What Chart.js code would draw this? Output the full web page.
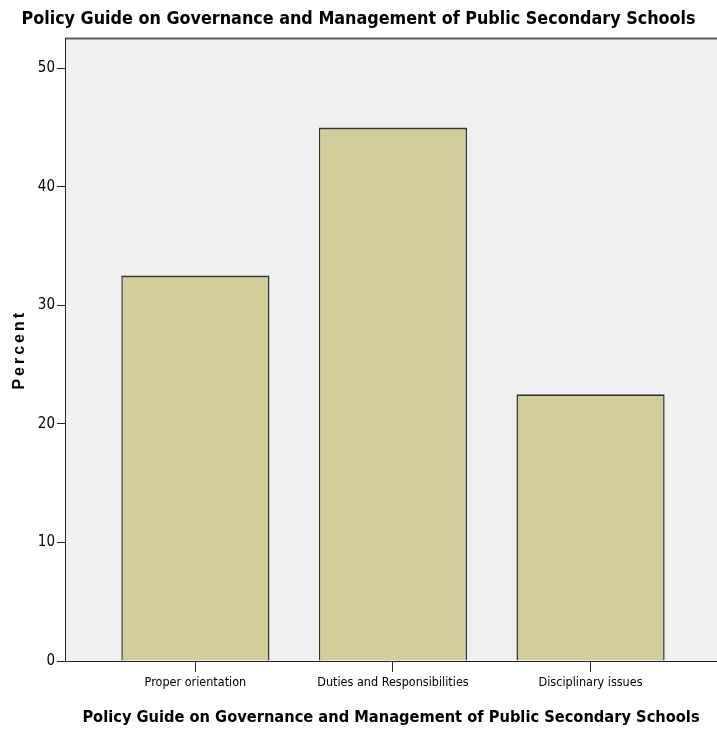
<!DOCTYPE html>
<html>
<head>
<meta charset="utf-8">
<script src="https://cdn.jsdelivr.net/npm/chart.js@4.4.1/dist/chart.umd.min.js"></script>
<style>
  html, body { margin: 0; padding: 0; background: #fff; overflow: hidden; }
  #wrap { width: 717px; height: 731px; }
</style>
</head>
<body>
<div id="wrap"><canvas id="chart"></canvas></div>
<script>
const categories = ["Proper orientation", "Duties and Responsibilities", "Disciplinary issues"];
const percents = [32.5, 45.0, 22.5];
const yTickValues = [0, 10, 20, 30, 40, 50];
const chartTitle = "Policy Guide on Governance and Management of Public Secondary Schools";

const NARROW = "'Liberation Sans Narrow', 'DejaVu Sans Condensed', 'Liberation Sans', Arial, sans-serif";

// grey plot panel with the darker frame line on top
const plotPanel = {
  id: "plotPanel",
  beforeDraw(chart) {
    const { ctx, chartArea: a } = chart;
    ctx.save();
    ctx.fillStyle = "#f0f0f0";
    ctx.fillRect(a.left, a.top, a.right - a.left, a.bottom - a.top);
    ctx.strokeStyle = "#5c5c5c";
    ctx.lineWidth = 2;
    ctx.beginPath();
    ctx.moveTo(a.left, a.top);
    ctx.lineTo(a.right, a.top);
    ctx.stroke();
    ctx.restore();
  },
};

// SPSS spreads the letters of the vertical axis title
const spacedTitle = {
  id: "spacedTitle",
  afterLayout(chart) {
    const s = chart.scales.y;
    if (s._spaced) return;
    const orig = s.drawTitle;
    s.drawTitle = function () {
      this.ctx.save();
      this.ctx.letterSpacing = "3px";
      orig.call(this);
      this.ctx.restore();
    };
    s._spaced = true;
  },
};

new Chart(document.getElementById("chart"), {
  type: "bar",
  data: {
    datasets: [
      {
        label: "Percent",
        data: percents.map((v, i) => ({ x: i, y: v })),
        backgroundColor: "#d3ce99",
        borderColor: "#333333",
        borderWidth: { top: 2, left: 1.5, right: 1.5, bottom: 0 },
        borderSkipped: false,
        barPercentage: 0.75,
        categoryPercentage: 1,
      },
    ],
  },
  options: {
    responsive: true,
    maintainAspectRatio: false,
    animation: false,
    layout: { padding: 0 },
    plugins: {
      legend: { display: false },
      tooltip: { enabled: false },
      title: {
        display: true,
        text: chartTitle,
        color: "#000",
        font: { family: NARROW, size: 17.8, weight: "bold", lineHeight: 1.2 },
        padding: { top: 9, bottom: 8.1 },
      },
    },
    scales: {
      x: {
        type: "linear",
        offset: false,
        bounds: "data",
        min: -0.66,
        max: 2.64,
        afterBuildTicks: (axis) => {
          axis.ticks = categories.map((_, i) => ({ value: i }));
        },
        afterFit: (axis) => { axis.height = 70; },
        grid: { offset: false, drawOnChartArea: false, drawTicks: true, tickLength: 11, color: "#222" },
        border: { display: true, color: "#222", width: 1, z: 1 },
        ticks: {
          color: "#000",
          padding: 3,
          maxRotation: 0,
          autoSkip: false,
          font: { family: NARROW, size: 12.5 },
          callback: (value) => categories[value],
        },
        title: {
          display: true,
          text: chartTitle,
          color: "#000",
          font: { family: NARROW, size: 16.3, weight: "bold", lineHeight: 1 },
          padding: { top: 0, bottom: 5 },
        },
      },
      y: {
        min: 0,
        max: 52.5,
        afterBuildTicks: (axis) => {
          axis.ticks = yTickValues.map((v) => ({ value: v }));
        },
        afterFit: (axis) => { axis.width = 65; },
        grid: { drawOnChartArea: false, drawTicks: true, tickLength: 8, color: "#222" },
        border: { display: true, color: "#222", width: 1, z: 1 },
        ticks: {
          color: "#000",
          padding: 2,
          font: { family: NARROW, size: 15 },
        },
        title: {
          display: true,
          text: "Percent",
          color: "#000",
          font: { family: "'Liberation Sans', Arial, sans-serif", size: 16, weight: "bold", lineHeight: 1.2 },
          padding: { top: 10, bottom: 0 },
        },
      },
    },
  },
  plugins: [plotPanel, spacedTitle],
});
</script>
</body>
</html>
